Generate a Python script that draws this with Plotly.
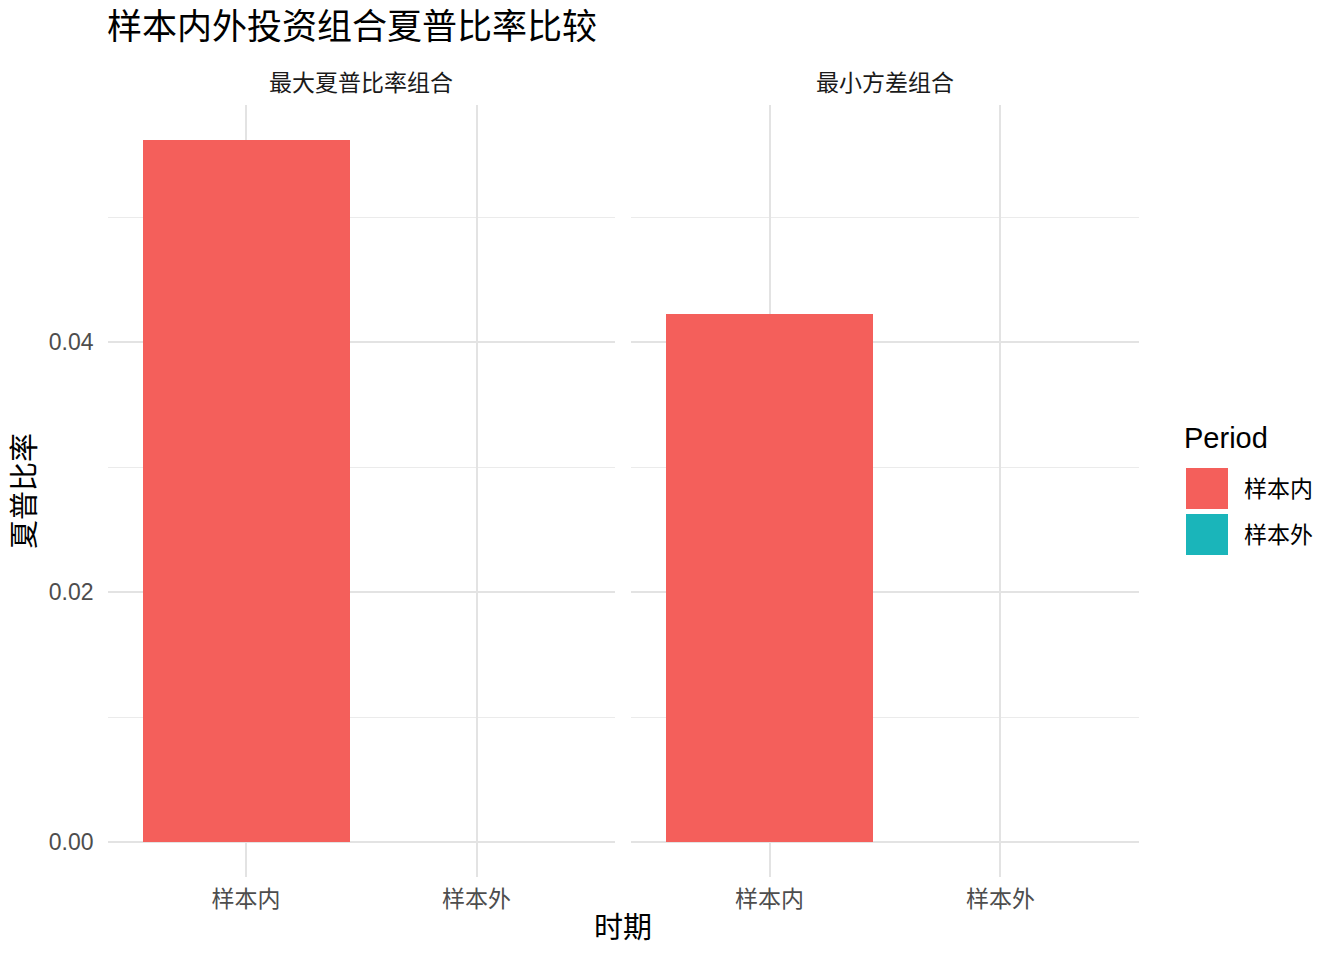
import plotly.graph_objects as go

# ---- data ----
facets = ["最大夏普比率组合", "最小方差组合"]
periods = ["样本内", "样本外"]
sharpe_max_sr = [0.0562, None]
sharpe_min_var = [0.0423, None]
period_colors = ["#F45F5B", "#1AB5BA"]
title_text = "样本内外投资组合夏普比率比较"
x_title = "时期"
y_title = "夏普比率"
legend_title = "Period"

W, H = 1344, 960
FONT = "Liberation Sans, Arial, Noto Sans CJK SC, sans-serif"

series = [sharpe_max_sr, sharpe_min_var]
vals = [v for s in series for v in s if v is not None]
ymax = max(vals)
pad = 0.05 * ymax
yrange = [-pad, ymax + pad]

px_l1, px_r1 = 107.5, 615
px_l2, px_r2 = 631, 1139
py_top, py_bot = 104.9, 877.1

def fx(p):
    return p / W

def fy(p):
    return 1 - p / H

fig = go.Figure()
for i, (name, s) in enumerate(zip(facets, series)):
    fig.add_trace(go.Bar(
        x=periods, y=s, width=0.9,
        marker=dict(color=period_colors, line=dict(width=0)),
        xaxis="x" if i == 0 else "x2",
        yaxis="y" if i == 0 else "y2",
        showlegend=False, name=name,
    ))

grid = "#E3E3E3"
grid_minor = "#EBEBEB"
xcommon = dict(type="category", range=[-0.6, 1.6], showgrid=True, gridcolor=grid,
               gridwidth=2, zeroline=False, showline=False, ticks="",
               tickfont=dict(family=FONT, size=23, color="#4D4D4D"),
               ticklabelstandoff=6)
ycommon = dict(range=yrange, dtick=0.02, tick0=0, tickformat=".2f", showgrid=True,
               gridcolor=grid, gridwidth=2, zeroline=False, showline=False, ticks="",
               minor=dict(dtick=0.01, tick0=0, showgrid=True, gridcolor=grid_minor, gridwidth=1),
               tickfont=dict(family=FONT, size=23, color="#4D4D4D"))

fig.update_layout(
    width=W, height=H,
    margin=dict(l=0, r=0, t=0, b=0),
    paper_bgcolor="white", plot_bgcolor="white",
    font=dict(family=FONT),
    showlegend=False,
    bargap=0,
    xaxis=dict(domain=[fx(px_l1), fx(px_r1)], anchor="y", **xcommon),
    xaxis2=dict(domain=[fx(px_l2), fx(px_r2)], anchor="y2", **xcommon),
    yaxis=dict(domain=[fy(py_bot), fy(py_top)], anchor="x", ticklabelstandoff=13, **ycommon),
    yaxis2=dict(domain=[fy(py_bot), fy(py_top)], anchor="x2", showticklabels=False, **ycommon),
)

ann = []
ann.append(dict(text=title_text, x=fx(105), y=fy(27), xref="paper", yref="paper",
                xanchor="left", yanchor="middle", showarrow=False,
                font=dict(family=FONT, size=35, color="black")))
for (l, r), name in zip([(px_l1, px_r1), (px_l2, px_r2)], facets):
    ann.append(dict(text=name, x=fx((l + r) / 2), y=fy(83), xref="paper", yref="paper",
                    xanchor="center", yanchor="middle", showarrow=False,
                    font=dict(family=FONT, size=23, color="#1A1A1A")))
ann.append(dict(text=x_title, x=fx((px_l1 + px_r2) / 2), y=fy(928), xref="paper", yref="paper",
                xanchor="center", yanchor="middle", showarrow=False,
                font=dict(family=FONT, size=29, color="black")))
ann.append(dict(text=y_title, x=fx(25), y=fy((py_top + py_bot) / 2), xref="paper", yref="paper",
                xanchor="center", yanchor="middle", showarrow=False, textangle=-90,
                font=dict(family=FONT, size=29, color="black")))
# legend
ann.append(dict(text=legend_title, x=fx(1182), y=fy(438), xref="paper", yref="paper",
                xanchor="left", yanchor="middle", showarrow=False,
                font=dict(family=FONT, size=29, color="black")))
shapes = []
key_tops = [468, 514]
for p, c, t in zip(periods, period_colors, key_tops):
    shapes.append(dict(type="rect", xref="paper", yref="paper",
                       x0=fx(1186), x1=fx(1228), y0=fy(t + 41), y1=fy(t),
                       fillcolor=c, line=dict(width=0)))
    ann.append(dict(text=p, x=fx(1242), y=fy(t + 21), xref="paper", yref="paper",
                    xanchor="left", yanchor="middle", showarrow=False,
                    font=dict(family=FONT, size=23, color="black")))
fig.update_layout(annotations=ann, shapes=shapes)

fig.write_html("out.html", config={"displayModeBar": False},
               post_script="document.body.style.margin='0';document.body.style.overflow='hidden';")
